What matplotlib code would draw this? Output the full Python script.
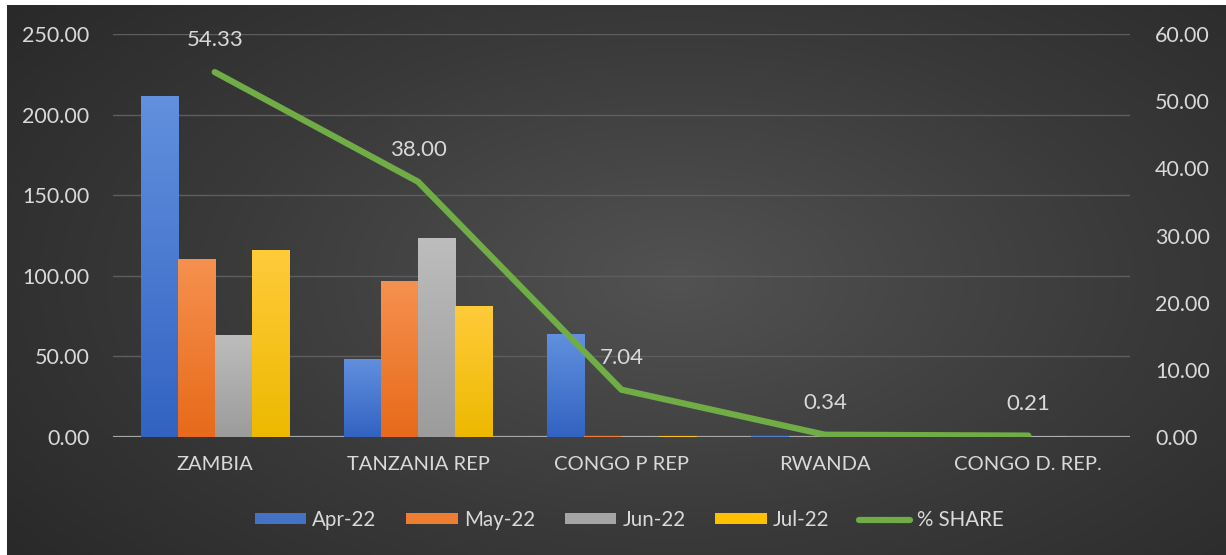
import numpy as np
import matplotlib
matplotlib.use('Agg')
import matplotlib.pyplot as plt
from matplotlib.patches import Patch
from matplotlib.lines import Line2D
from matplotlib.colors import LinearSegmentedColormap

categories = ['ZAMBIA', 'TANZANIA REP', 'CONGO P REP', 'RWANDA', 'CONGO D. REP.']
months = ['Apr-22', 'May-22', 'Jun-22', 'Jul-22']
apr22 = [211.5, 48.5, 64.0, 0.6, 0.4]
may22 = [110.5, 97.0, 0.5, 0.3, 0.3]
jun22 = [63.5, 123.5, 0.4, 0.3, 0.5]
jul22 = [116.0, 81.5, 0.5, 0.3, 0.3]
share = [54.33, 38.00, 7.04, 0.34, 0.21]

left_ticks = [0, 50, 100, 150, 200, 250]
right_ticks = [0, 10, 20, 30, 40, 50, 60]

# (top colour, bottom colour) for each month
bar_colors = [('#6290DE', '#3263C2'),
              ('#F5914F', '#E86A1A'),
              ('#BDBDBD', '#9C9C9C'),
              ('#FFCB3A', '#EDB900')]
legend_colors = ['#4472C4', '#ED7D31', '#A5A5A5', '#FFC000']
line_color = '#70AD47'
text_color = '#D9D9D9'

plt.rcParams['font.family'] = ['Lato', 'DejaVu Sans']

W, H = 1226, 555
fig = plt.figure(figsize=(W / 100, H / 100), dpi=100, facecolor='white')

# dark radial background, with a thin white strip at top and left
bg = fig.add_axes([7 / W, 0, 1 - 7 / W, 1 - 5 / H])
yy, xx = np.mgrid[0:1:300j, 0:1:600j]
r = np.sqrt(((xx - 0.55) / 0.75) ** 2 + ((yy - 0.5) / 0.9) ** 2)
bg_cmap = LinearSegmentedColormap.from_list('bg', ['#525252', '#3a3a3a', '#262626'])
bg.imshow(np.clip(r, 0, 1), cmap=bg_cmap, aspect='auto', extent=[0, 1, 0, 1],
          vmin=0, vmax=1)
bg.axis('off')

ax = fig.add_axes([113 / W, 1 - 437 / H, (1130 - 113) / W, (437 - 34) / H])
ax.set_facecolor('none')
ax2 = ax.twinx()

x = np.arange(len(categories))
width = 0.182
series = [apr22, may22, jun22, jul22]
grad = np.linspace(0, 1, 100).reshape(-1, 1)
for i, vals in enumerate(series):
    offs = (i - 1.5) * width
    bars = ax.bar(x + offs, vals, width, color=legend_colors[i], linewidth=0, zorder=2)
    cmap = LinearSegmentedColormap.from_list('g%d' % i, [bar_colors[i][0], bar_colors[i][1]])
    for b in bars:
        bx, by = b.get_x(), b.get_y()
        bw, bh = b.get_width(), b.get_height()
        im = ax.imshow(grad, cmap=cmap, aspect='auto', zorder=2.1,
                       extent=[bx, bx + bw, by, by + bh])
        im.set_clip_path(b)

ax.set_xlim(-0.5, len(categories) - 0.5)
ax.set_ylim(0, 250)
ax.set_yticks(left_ticks)
ax.set_yticklabels(['%.2f' % v for v in left_ticks])
ax.set_xticks(x)
ax.set_xticklabels(categories)
ax.yaxis.grid(True, color='#5e5e5e', linewidth=1.0, zorder=0)
ax.set_axisbelow(True)
ax.axhline(0, color='#A6A6A6', linewidth=1.6, zorder=1.5)

ax2.plot(x, share, color=line_color, linewidth=4.5, solid_capstyle='round',
         solid_joinstyle='round', zorder=5)
ax2.set_ylim(0, 60)
ax2.set_yticks(right_ticks)
ax2.set_yticklabels(['%.2f' % v for v in right_ticks])
for xi, v in zip(x, share):
    ax2.annotate('%.2f' % v, (xi, v), xytext=(0, 23), textcoords='offset points',
                 ha='center', va='center', color=text_color, fontsize=16)

for a in (ax, ax2):
    for s in a.spines.values():
        s.set_visible(False)
    a.tick_params(length=0, colors=text_color, labelsize=15.5)
ax.tick_params(axis='y', pad=17)
ax2.tick_params(axis='y', pad=18)
ax.tick_params(axis='x', pad=14, labelsize=14.5)

handles = [Patch(facecolor=c, edgecolor='none') for c in legend_colors]
handles.append(Line2D([0], [0], color=line_color, linewidth=4.5, solid_capstyle='round'))
leg = fig.legend(handles, months + ['% SHARE'], loc='center', ncol=5,
                 bbox_to_anchor=(629 / W, 1 - 520 / H), frameon=False, fontsize=14.8,
                 handlelength=2.5, handleheight=0.44, handletextpad=0.3,
                 columnspacing=1.45)
for t in leg.get_texts():
    t.set_color(text_color)

fig.savefig('out.png', dpi=100, facecolor='white')
